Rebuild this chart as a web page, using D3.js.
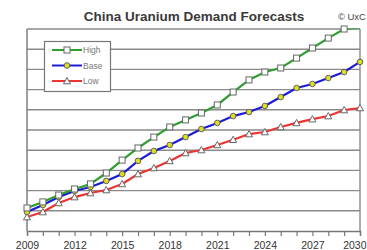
<!DOCTYPE html>
<html><head><meta charset="utf-8">
<script src="https://cdn.jsdelivr.net/npm/d3@7"></script>
<style>body{margin:0;background:#fff}svg{display:block}</style>
</head><body>
<svg id="c" width="367" height="250"></svg>
<script>
const years = d3.range(2009, 2031);
const tickYears = [2009, 2012, 2015, 2018, 2021, 2024, 2027, 2030];
const high = [1.14,1.44,1.78,2.08,2.33,2.87,3.51,4.11,4.65,5.15,5.50,5.84,6.24,6.88,7.48,7.87,8.07,8.56,9.06,9.55,10.0,10.05];
const base = [0.94,1.29,1.68,1.98,2.18,2.48,2.82,3.47,3.96,4.26,4.65,5.05,5.35,5.69,5.89,6.19,6.63,7.08,7.28,7.57,7.87,8.37];
const low  = [0.69,0.94,1.39,1.68,1.88,2.03,2.33,2.82,3.12,3.47,3.86,4.01,4.26,4.52,4.80,4.90,5.15,5.35,5.54,5.69,5.99,6.09];
const seriesNames = ["High", "Base", "Low"];

const svg = d3.select("#c");
const L = 27, R = 360, T = 29, B = 231;
const x = d3.scaleLinear().domain([2009, 2030]).range([L, R]);
const y = d3.scaleLinear().domain([0, 10]).range([B, T]);
const FONT = "Liberation Sans, Arial, sans-serif";

svg.append("defs").append("clipPath").attr("id","pc")
  .append("rect").attr("x",L).attr("y",T-0.5).attr("width",R-L+1).attr("height",B-T+1);

// gridlines
svg.append("g").selectAll("line").data(d3.range(1, 11)).join("line")
  .attr("x1", L).attr("x2", R).attr("y1", d => y(d)).attr("y2", d => y(d))
  .attr("stroke", "#8a8a8a").attr("stroke-width", 1.4);
// frame
svg.append("line").attr("x1",R).attr("x2",R).attr("y1",T).attr("y2",B).attr("stroke","#8a8a8a").attr("stroke-width",1.4);
svg.append("line").attr("x1",L).attr("x2",L).attr("y1",T).attr("y2",B).attr("stroke","#777").attr("stroke-width",1.4);

// x axis
const xAxis = d3.axisBottom(x).tickValues(years).tickSize(5).tickFormat(d => tickYears.includes(d) ? d : "");
const ax = svg.append("g").attr("transform", `translate(0,${B})`).call(xAxis);
ax.select(".domain").attr("stroke","#777").attr("stroke-width",1.4);
ax.selectAll(".tick line").attr("stroke","#777").attr("stroke-width",1.2);
ax.selectAll(".tick text").attr("font-family",FONT)
  .attr("font-size", 10.5).attr("fill","#333").attr("dy", "0.95em");
ax.selectAll(".tick text").filter(d => d === 2030).attr("text-anchor","end").attr("dx", 366 - x(2030));

const colors = ["#2e9e2e", "#1c1cd8", "#ee3333"];
const data = [high, base, low];
const line = d3.line().x((d,i) => x(years[i])).y(d => y(d));

function marker(g, type, cx, cy) {
  if (type === 0) {
    g.append("rect").attr("x", cx-3).attr("y", cy-3).attr("width",6).attr("height",6)
      .attr("fill","#fff").attr("stroke","#666").attr("stroke-width",1);
  } else if (type === 1) {
    g.append("circle").attr("cx",cx).attr("cy",cy).attr("r",2.8)
      .attr("fill","#dede22").attr("stroke","#555").attr("stroke-width",0.9);
  } else {
    g.append("path").attr("d", `M${cx},${cy-3.5}L${cx+3.5},${cy+2.8}L${cx-3.5},${cy+2.8}Z`)
      .attr("fill","#fff").attr("stroke","#666").attr("stroke-width",1);
  }
}

// draw lines bottom to top: low, base, high
[2,1,0].forEach(k => {
  svg.append("path").datum(data[k]).attr("d", line).attr("fill","none")
    .attr("stroke", colors[k]).attr("stroke-width", 2.2).attr("clip-path","url(#pc)");
  const g = svg.append("g");
  data[k].forEach((v,i) => { if (v <= 10) marker(g, k, x(years[i]), y(v)); });
});

// legend
const lg = svg.append("g");
lg.append("rect").attr("x",44.5).attr("y",41.5).attr("width",66).attr("height",50)
  .attr("fill","#fff").attr("stroke","#777").attr("stroke-width",1.2);
seriesNames.forEach((n,k) => {
  const ly = 50 + k*15.5;
  lg.append("line").attr("x1",52).attr("x2",82).attr("y1",ly).attr("y2",ly)
    .attr("stroke",colors[k]).attr("stroke-width",2);
  marker(lg, k, 67, ly);
  lg.append("text").attr("x",83).attr("y",ly+3).text(n)
    .attr("font-family",FONT).attr("font-size",8.5).attr("fill","#777");
});

// title
svg.append("text").attr("x", 194).attr("y", 21).attr("text-anchor","middle")
  .attr("font-family",FONT).attr("font-weight","bold")
  .attr("font-size", 13.5).attr("fill","#3a3a3a").text("China Uranium Demand Forecasts");
svg.append("text").attr("x", 366).attr("y", 20).attr("text-anchor","end")
  .attr("font-family",FONT)
  .attr("font-size", 9.5).attr("fill","#444").text("© UxC");
</script>
</body></html>
